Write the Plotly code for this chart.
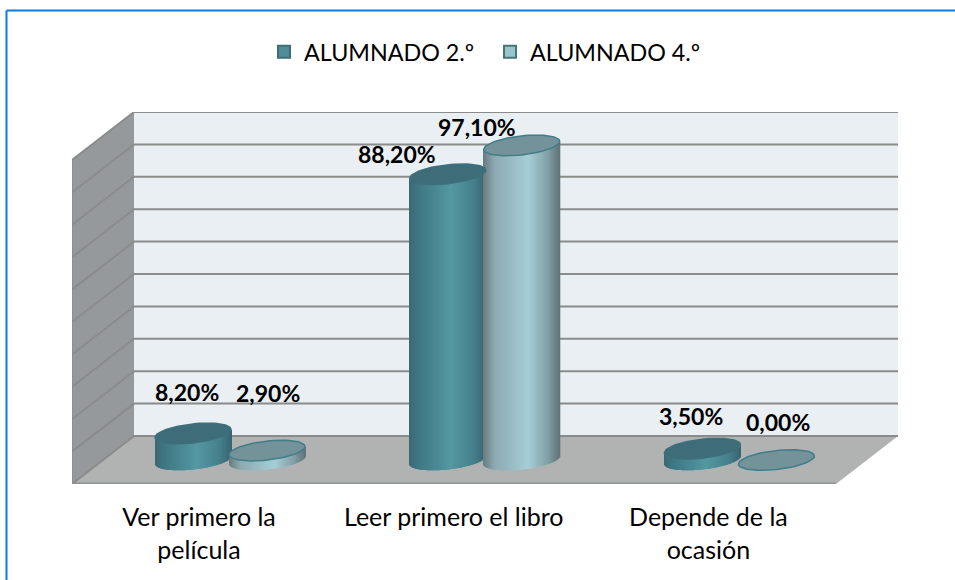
import plotly.graph_objects as go
import math

categories = ["Ver primero la<br>película", "Leer primero el libro", "Depende de la<br>ocasión"]
series_names = ["ALUMNADO 2.º", "ALUMNADO 4.º"]
alumnado_2 = [8.2, 88.2, 3.5]
alumnado_4 = [2.9, 97.1, 0.0]
value_ticks = list(range(0, 101, 10))

W, H = 955, 580
PX_L, PX_R, PX_T, PX_B = 72, 898, 112, 484
CAT_PX = 254.7
CAT0_PX = 199
UNIT_PX = 3.24
def ux(px): return px / CAT_PX
def uy(px): return px / UNIT_PX

x_range = [ux(PX_L - CAT0_PX), ux(PX_R - CAT0_PX)]
y_range = [0, uy(PX_B - PX_T)]
DEPTH_X, DEPTH_Y = ux(62), uy(48)
MID_X, MID_Y = DEPTH_X / 2, DEPTH_Y / 2
BAR_W = ux(76)
BAR_OFF = ux(37)
CAP_A, CAP_B, SHEAR = BAR_W / 2, uy(9.5), uy(0.105 * 38.5)

GRAD = [
    [(0, (58, 104, 115)), (0.12, (62, 118, 130)), (0.55, (84, 152, 162)), (0.85, (68, 128, 140)), (1, (56, 100, 112))],
    [(0, (104, 122, 126)), (0.15, (140, 170, 177)), (0.6, (166, 205, 214)), (0.85, (130, 160, 167)), (1, (96, 116, 120))],
]
CAP_FILL = ["#3e6d79", "#74929a"]
CAP_EDGE = ["#3e6f7c", "#3f7d89"]
LEG_FILL = ["#4f8d99", "#9bc4cb"]
LEG_EDGE = ["#3d6f7a", "#44757f"]
GRID = "#8a8c8c"
N_STRIP = 76

def grad_color(stops, t):
    for (t0, c0), (t1, c1) in zip(stops, stops[1:]):
        if t <= t1:
            f = (t - t0) / (t1 - t0)
            return "rgb(%d,%d,%d)" % tuple(round(a + (b - a) * f) for a, b in zip(c0, c1))
    return "rgb(%d,%d,%d)" % stops[-1][1]

fig = go.Figure()

all_values = [alumnado_2, alumnado_4]
for s, values in enumerate(all_values):
    xs, ys, bases, offsets, colors = [], [], [], [], []
    center = MID_X + (-BAR_OFF if s == 0 else BAR_OFF)
    sw = BAR_W / N_STRIP
    for c, v in enumerate(values):
        for k in range(N_STRIP):
            t = (k + 0.5) / N_STRIP
            u = 2 * t - 1
            arc = CAP_B * math.sqrt(max(0, 1 - u * u))
            xs.append(c)
            bases.append(MID_Y - arc + SHEAR * u)
            ys.append(v + arc)
            offsets.append(center - BAR_W / 2 + k * sw)
            colors.append(grad_color(GRAD[s], t))
    fig.add_trace(go.Bar(x=xs, y=ys, base=bases, offset=offsets, width=[sw * 1.6] * len(xs),
                         marker=dict(color=colors, line=dict(width=0)), showlegend=False, hoverinfo="skip"))

for s, values in enumerate(all_values):
    center = MID_X + (-BAR_OFF if s == 0 else BAR_OFF)
    for c, v in enumerate(values):
        n = 72
        ex = [c + center + CAP_A * math.cos(2 * math.pi * i / n) for i in range(n + 1)]
        ey = [MID_Y + v + CAP_B * math.sin(2 * math.pi * i / n) + SHEAR * math.cos(2 * math.pi * i / n) for i in range(n + 1)]
        fig.add_trace(go.Scatter(x=ex, y=ey, mode="lines", fill="toself", fillcolor=CAP_FILL[s],
                                 line=dict(color=CAP_EDGE[s], width=1.5), showlegend=False, hoverinfo="skip"))

for s, name in enumerate(series_names):
    fig.add_trace(go.Scatter(x=[None], y=[None], mode="markers", name=name,
                             marker=dict(symbol="square", size=14, color=LEG_FILL[s],
                                         line=dict(color=LEG_EDGE[s], width=2))))

shapes = []
def poly(pts, fill, line=None, width=0):
    path = "M " + " L ".join(f"{x},{y}" for x, y in pts) + " Z"
    shapes.append(dict(type="path", path=path, xref="x", yref="y", fillcolor=fill, layer="below",
                       line=dict(color=line or fill, width=width)))
def seg(pts, color, width):
    path = "M " + " L ".join(f"{x},{y}" for x, y in pts)
    shapes.append(dict(type="path", path=path, xref="x", yref="y", layer="below",
                       line=dict(color=color, width=width)))

xl, xr = x_range
xf = xr - DEPTH_X
top = value_ticks[-1]
poly([(xl + DEPTH_X, DEPTH_Y), (xr, DEPTH_Y), (xr, DEPTH_Y + top), (xl + DEPTH_X, DEPTH_Y + top)], "#e9eff2")
poly([(xl, 0), (xl + DEPTH_X, DEPTH_Y), (xl + DEPTH_X, DEPTH_Y + top), (xl, top)], "#96999b")
poly([(xl, 0), (xf, 0), (xr, DEPTH_Y), (xl + DEPTH_X, DEPTH_Y)], "#b0b3b2")
for v in value_ticks:
    seg([(xl, v), (xl + DEPTH_X, DEPTH_Y + v), (xr, DEPTH_Y + v)], GRID, 2)
seg([(xl, 0), (xf, 0)], "#8f9292", 3)
seg([(xl, 0), (xl, top)], "#8a8c8c", 1.5)

shapes.append(dict(type="line", xref="paper", yref="paper", x0=6.5 / W, x1=1,
                   y0=1 - 10.5 / H, y1=1 - 10.5 / H, line=dict(color="#0f7bd6", width=2), layer="above"))
shapes.append(dict(type="line", xref="paper", yref="paper", x0=6.5 / W, x1=6.5 / W,
                   y0=0, y1=1 - 10.5 / H, line=dict(color="#0f7bd6", width=2), layer="above"))

label_shift = [[(-6, 41), (1, 58)], [(-51, 20), (-45, 18)], [(-11, 33), (2, 38)]]
annotations = []
for s, values in enumerate(all_values):
    center = MID_X + (-BAR_OFF if s == 0 else BAR_OFF)
    for c, v in enumerate(values):
        dx, dy = label_shift[c][s]
        annotations.append(dict(x=c + center, y=MID_Y + v, xref="x", yref="y",
                                text="<b>" + f"{v:.2f}".replace(".", ",") + "%</b>",
                                showarrow=False, xshift=dx, yshift=dy, xanchor="center", yanchor="middle",
                                font=dict(family="Lato", size=23, color="#000000")))

fig.update_layout(
    width=W, height=H, margin=dict(l=0, r=0, t=0, b=0), paper_bgcolor="white", plot_bgcolor="rgba(0,0,0,0)",
    barmode="overlay", shapes=shapes, annotations=annotations,
    font=dict(family="Lato", color="#000000"),
    legend=dict(orientation="h", x=264 / W, xanchor="left", y=1 - 52 / H, yanchor="middle",
                entrywidth=181, entrywidthmode="pixels",
                font=dict(family="Lato", size=23.3), itemsizing="constant", bgcolor="rgba(0,0,0,0)"),
    xaxis=dict(domain=[PX_L / W, PX_R / W], range=x_range, tickmode="array", tickvals=[0, 1, 2], ticktext=categories,
               showgrid=False, zeroline=False, showline=False, ticks="", tickfont=dict(family="Lato", size=25),
               ticklabelstandoff=16, anchor="y", automargin=False),
    yaxis=dict(domain=[(H - PX_B) / H, (H - PX_T) / H], range=y_range, showticklabels=False, showgrid=False,
               zeroline=False, showline=False, ticks="", anchor="x", automargin=False),
    hovermode=False,
)
fig.write_html("out.html", post_script="document.body.style.margin='0';", config=dict(displayModeBar=False))
